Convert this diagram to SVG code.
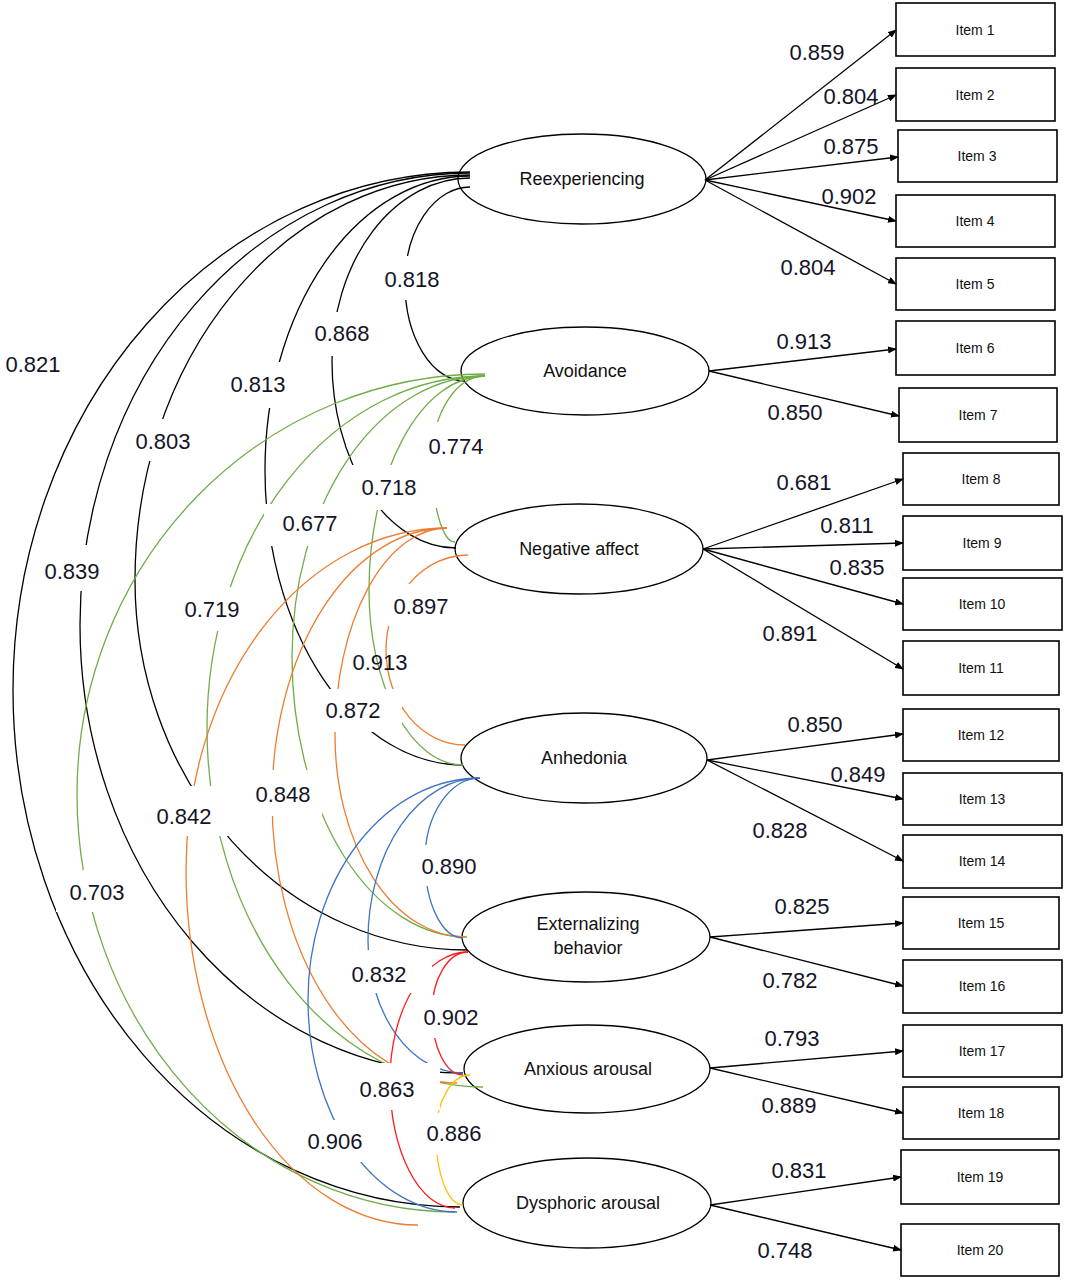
<svg xmlns="http://www.w3.org/2000/svg" width="1065" height="1280" viewBox="0 0 1065 1280">
<style>
.bg{fill:#fff}
.node ellipse{fill:#fff;stroke:#000;stroke-width:1.3}
.node rect{fill:#fff;stroke:#000;stroke-width:1.6}
.nt{font-family:"Liberation Sans",Arial,sans-serif;font-size:18px;fill:#111;text-anchor:middle}
.it{font-family:"Liberation Sans",Arial,sans-serif;font-size:14px;fill:#111;text-anchor:middle}
.lb{font-family:"Liberation Sans",Arial,sans-serif;font-size:22px;fill:#141428;text-anchor:middle}
.ld{fill:none;stroke:#000;stroke-width:1.3}
.arc{fill:none;stroke-width:1.3}
.k{stroke:#000}
.g{stroke:#70ad47}
.o{stroke:#ed7d31}
.b{stroke:#3f74c4}
.r{stroke:#ff1a1a}
.y{stroke:#ffc000}
.wb{fill:#fff}
</style>
<defs>
<marker id="ah" markerWidth="9" markerHeight="7" refX="8" refY="3.5" orient="auto" markerUnits="userSpaceOnUse">
<path d="M0,0 L9,3.5 L0,7 Z" fill="#000"/>
</marker>
</defs>
<rect class="bg" x="0" y="0" width="1065" height="1280"/>

<g id="factors">
<g id="n-reexp" class="node"><ellipse cx="582" cy="179" rx="124" ry="45"/><text class="nt" x="582" y="185">Reexperiencing</text></g>
<g id="n-avoid" class="node"><ellipse cx="585" cy="371" rx="124" ry="44"/><text class="nt" x="585" y="377">Avoidance</text></g>
<g id="n-negaff" class="node"><ellipse cx="579" cy="549" rx="124" ry="45"/><text class="nt" x="579" y="555">Negative affect</text></g>
<g id="n-anhed" class="node"><ellipse cx="584" cy="758" rx="123" ry="45"/><text class="nt" x="584" y="764">Anhedonia</text></g>
<g id="n-ext" class="node"><ellipse cx="586" cy="937" rx="124" ry="45"/><text class="nt" x="588" y="930">Externalizing</text><text class="nt" x="588" y="954">behavior</text></g>
<g id="n-anx" class="node"><ellipse cx="587" cy="1069" rx="123" ry="44"/><text class="nt" x="588" y="1075">Anxious arousal</text></g>
<g id="n-dys" class="node"><ellipse cx="587" cy="1203" rx="124" ry="45"/><text class="nt" x="588" y="1209">Dysphoric arousal</text></g>
</g>

<g id="items">
<g id="i1" class="node"><rect x="896" y="3" width="159" height="53"/><text class="it" x="975" y="35">Item 1</text></g>
<g id="i2" class="node"><rect x="896" y="68" width="159" height="53"/><text class="it" x="975" y="100">Item 2</text></g>
<g id="i3" class="node"><rect x="898" y="130" width="159" height="52"/><text class="it" x="977" y="161">Item 3</text></g>
<g id="i4" class="node"><rect x="896" y="195" width="159" height="52"/><text class="it" x="975" y="226">Item 4</text></g>
<g id="i5" class="node"><rect x="896" y="258" width="159" height="52"/><text class="it" x="975" y="289">Item 5</text></g>
<g id="i6" class="node"><rect x="896" y="321" width="159" height="54"/><text class="it" x="975" y="353">Item 6</text></g>
<g id="i7" class="node"><rect x="899" y="388" width="158" height="54"/><text class="it" x="978" y="420">Item 7</text></g>
<g id="i8" class="node"><rect x="903" y="453" width="156" height="52"/><text class="it" x="981" y="484">Item 8</text></g>
<g id="i9" class="node"><rect x="903" y="516" width="159" height="54"/><text class="it" x="982" y="548">Item 9</text></g>
<g id="i10" class="node"><rect x="903" y="578" width="159" height="52"/><text class="it" x="982" y="609">Item 10</text></g>
<g id="i11" class="node"><rect x="903" y="641" width="156" height="54"/><text class="it" x="981" y="673">Item 11</text></g>
<g id="i12" class="node"><rect x="903" y="709" width="156" height="52"/><text class="it" x="981" y="740">Item 12</text></g>
<g id="i13" class="node"><rect x="903" y="773" width="159" height="52"/><text class="it" x="982" y="804">Item 13</text></g>
<g id="i14" class="node"><rect x="903" y="835" width="159" height="53"/><text class="it" x="982" y="866">Item 14</text></g>
<g id="i15" class="node"><rect x="903" y="897" width="156" height="52"/><text class="it" x="981" y="928">Item 15</text></g>
<g id="i16" class="node"><rect x="903" y="960" width="159" height="53"/><text class="it" x="982" y="991">Item 16</text></g>
<g id="i17" class="node"><rect x="903" y="1025" width="159" height="52"/><text class="it" x="982" y="1056">Item 17</text></g>
<g id="i18" class="node"><rect x="903" y="1087" width="156" height="52"/><text class="it" x="981" y="1118">Item 18</text></g>
<g id="i19" class="node"><rect x="901" y="1150" width="158" height="54"/><text class="it" x="980" y="1182">Item 19</text></g>
<g id="i20" class="node"><rect x="901" y="1224" width="158" height="52"/><text class="it" x="980" y="1255">Item 20</text></g>
</g>

<g id="connectors">
<g id="loadings" class="ld" marker-end="url(#ah)">
<line x1="705" y1="180" x2="896" y2="30"/>
<line x1="705" y1="180" x2="896" y2="95"/>
<line x1="705" y1="180" x2="898" y2="157"/>
<line x1="705" y1="180" x2="896" y2="221"/>
<line x1="705" y1="180" x2="896" y2="284"/>
<line x1="709" y1="371" x2="896" y2="349"/>
<line x1="709" y1="371" x2="899" y2="416"/>
<line x1="703" y1="549" x2="903" y2="479"/>
<line x1="703" y1="549" x2="903" y2="543"/>
<line x1="703" y1="549" x2="903" y2="604"/>
<line x1="703" y1="549" x2="903" y2="669"/>
<line x1="707" y1="760" x2="903" y2="734"/>
<line x1="707" y1="760" x2="903" y2="799"/>
<line x1="707" y1="760" x2="903" y2="861"/>
<line x1="710" y1="937" x2="903" y2="923"/>
<line x1="710" y1="937" x2="903" y2="986"/>
<line x1="710" y1="1068" x2="903" y2="1051"/>
<line x1="710" y1="1068" x2="903" y2="1113"/>
<line x1="710" y1="1205" x2="901" y2="1177"/>
<line x1="710" y1="1205" x2="901" y2="1250"/>
</g>
<g id="correlations" class="arc">
<path class="k" d="M470,187 A65,96 0 0 0 405,283 A60,98 0 0 0 465,381"/>
<path class="k" d="M470,178 A138,183 0 0 0 332,361 A124,187 0 0 0 456,548"/>
<path class="k" d="M470,176 A205,294 0 0 0 265,470 A198,295 0 0 0 463,765"/>
<path class="k" d="M470,175 A335,405 0 0 0 135,580 A332,370 0 0 0 467,950"/>
<path class="k" d="M470,173 A390,452 0 0 0 80,625 A383,448 0 0 0 463,1073"/>
<path class="k" d="M470,172 A457,518 0 0 0 13,690 A447,517 0 0 0 460,1207"/>
<path class="g" d="M485,376 A53,84 0 0 0 432,460 A23,82 0 0 0 455,542"/>
<path class="g" d="M485,376 A116,214 0 0 0 369,590 A94,175 0 0 0 463,765"/>
<path class="g" d="M485,376 A193,281 0 0 0 292,657 A175,280 0 0 0 467,937"/>
<path class="g" d="M485,376 A278,352 0 0 0 207,728 A276,359 0 0 0 483,1087"/>
<path class="g" d="M485,374 A408,420 0 0 0 77,794 A378,418 0 0 0 455,1212"/>
<path class="o" d="M468,555 A82,95 0 0 0 386,650 A79,95 0 0 0 465,745"/>
<path class="o" d="M447,528 A112,207 0 0 0 335,735 A130,202 0 0 0 465,937"/>
<path class="o" d="M447,528 A175,272 0 0 0 272,800 A185,283 0 0 0 457,1083"/>
<path class="o" d="M447,528 A261,342 0 0 0 186,870 A232,355 0 0 0 418,1225"/>
<path class="b" d="M480,778 A55,82 0 0 0 425,860 A38,78 0 0 0 463,938"/>
<path class="b" d="M480,778 A112,162 0 0 0 368,940 A95,133 0 0 0 463,1073"/>
<path class="b" d="M480,778 A172,222 0 0 0 308,1000 A149,212 0 0 0 457,1212"/>
<path class="r" d="M468,952 A36,60 0 0 0 432,1012 A31,63 0 0 0 463,1075"/>
<path class="r" d="M468,952 A78,128 0 0 0 390,1080 A65,128 0 0 0 455,1208"/>
<path class="y" d="M470,1075 A34,60 0 0 0 436,1135 A27,70 0 0 0 463,1205"/>
</g>
</g>

<g id="corr-labels">
<rect class="wb" x="378" y="256" width="68" height="44"/><text class="lb" x="412" y="287">0.818</text>
<rect class="wb" x="308" y="312" width="68" height="44"/><text class="lb" x="342" y="341">0.868</text>
<rect class="wb" x="226" y="362" width="66" height="46"/><text class="lb" x="258" y="392">0.813</text>
<rect class="wb" x="130" y="419" width="67" height="42"/><text class="lb" x="163" y="449">0.803</text>
<text class="lb" x="33" y="372">0.821</text>
<rect class="wb" x="40" y="545" width="66" height="46"/><text class="lb" x="72" y="579">0.839</text>
<rect class="wb" x="420" y="422" width="72" height="86"/><text class="lb" x="456" y="454">0.774</text>
<rect class="wb" x="350" y="465" width="70" height="45"/><text class="lb" x="389" y="495">0.718</text>
<rect class="wb" x="264" y="504" width="81" height="42"/><text class="lb" x="310" y="531">0.677</text>
<rect class="wb" x="178" y="587" width="70" height="44"/><text class="lb" x="212" y="617">0.719</text>
<rect class="wb" x="387" y="584" width="69" height="42"/><text class="lb" x="421" y="614">0.897</text>
<text class="lb" x="380" y="670">0.913</text>
<rect class="wb" x="318" y="689" width="84" height="43"/><text class="lb" x="353" y="718">0.872</text>
<rect class="wb" x="250" y="770" width="72" height="46"/><text class="lb" x="283" y="802">0.848</text>
<rect class="wb" x="150" y="786" width="78" height="50"/><text class="lb" x="184" y="824">0.842</text>
<rect class="wb" x="56" y="870" width="78" height="42"/><text class="lb" x="97" y="900">0.703</text>
<rect class="wb" x="416" y="845" width="68" height="41"/><text class="lb" x="449" y="874">0.890</text>
<rect class="wb" x="345" y="950" width="87" height="43"/><text class="lb" x="379" y="982">0.832</text>
<rect class="wb" x="420" y="995" width="66" height="43"/><text class="lb" x="451" y="1025">0.902</text>
<rect class="wb" x="355" y="1063" width="85" height="47"/><text class="lb" x="387" y="1097">0.863</text>
<rect class="wb" x="420" y="1113" width="68" height="42"/><text class="lb" x="454" y="1141">0.886</text>
<rect class="wb" x="300" y="1120" width="70" height="42"/><text class="lb" x="335" y="1149">0.906</text>
</g>

<g id="loading-labels">
<text class="lb" x="817" y="60">0.859</text>
<text class="lb" x="851" y="104">0.804</text>
<text class="lb" x="851" y="154">0.875</text>
<text class="lb" x="849" y="204">0.902</text>
<text class="lb" x="808" y="275">0.804</text>
<text class="lb" x="804" y="349">0.913</text>
<text class="lb" x="795" y="420">0.850</text>
<text class="lb" x="804" y="490">0.681</text>
<text class="lb" x="847" y="533">0.811</text>
<text class="lb" x="857" y="575">0.835</text>
<text class="lb" x="790" y="641">0.891</text>
<text class="lb" x="815" y="732">0.850</text>
<text class="lb" x="858" y="782">0.849</text>
<text class="lb" x="780" y="838">0.828</text>
<text class="lb" x="802" y="914">0.825</text>
<text class="lb" x="790" y="988">0.782</text>
<text class="lb" x="792" y="1046">0.793</text>
<text class="lb" x="789" y="1113">0.889</text>
<text class="lb" x="799" y="1178">0.831</text>
<text class="lb" x="785" y="1258">0.748</text>
</g>
</svg>
